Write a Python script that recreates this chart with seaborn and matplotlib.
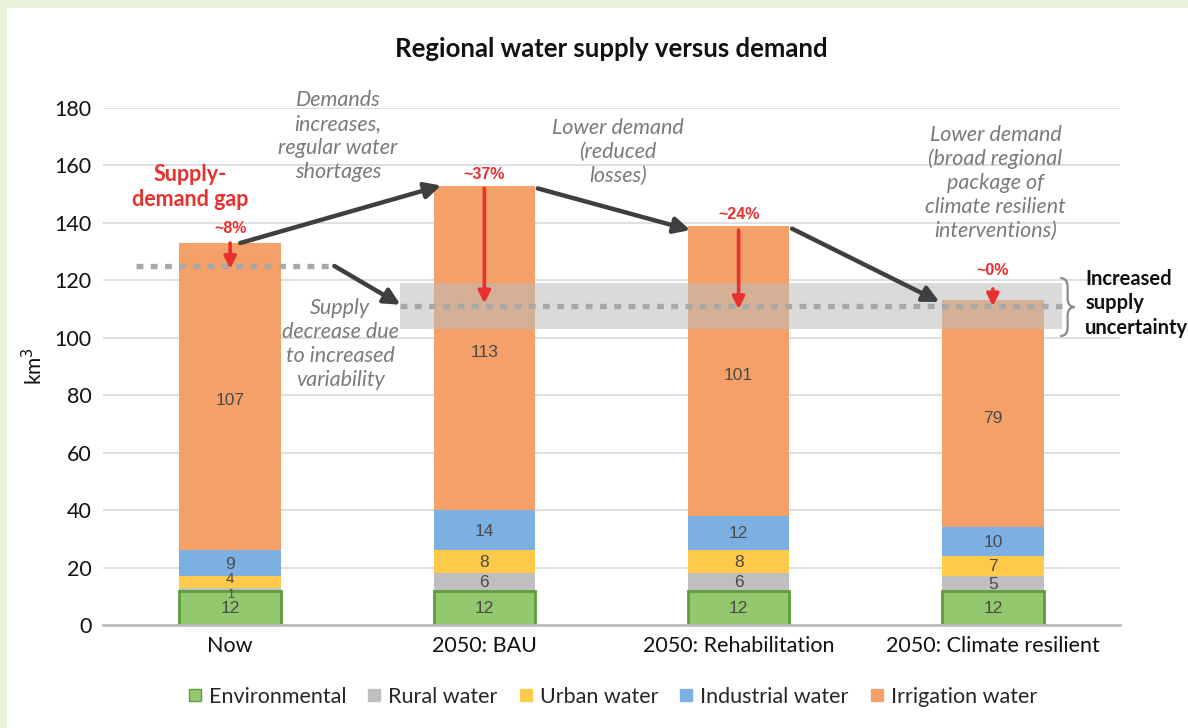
import matplotlib
matplotlib.use("Agg")
import matplotlib.pyplot as plt
import seaborn as sns
import numpy as np
import pandas as pd
from matplotlib.lines import Line2D
from matplotlib.patches import Rectangle, PathPatch
from matplotlib.path import Path

# ---------------- data ----------------
scenarios = ["Now", "2050: BAU", "2050: Rehabilitation", "2050: Climate resilient"]
environmental = [12, 12, 12, 12]
rural = [1, 6, 6, 5]
urban = [4, 8, 8, 7]
industrial = [9, 14, 12, 10]
irrigation = [107, 113, 101, 79]
series_names = ["Environmental", "Rural water", "Urban water", "Industrial water", "Irrigation water"]
gap_labels = ["~8%", "~37%", "~24%", "~0%"]
supply_now = 125
supply_future = 111
supply_band = [103, 119]
y_ticks = [0, 20, 40, 60, 80, 100, 120, 140, 160, 180]

colors = ["#93C86F", "#BFBFBF", "#FFCA4A", "#7DB0E2", "#F4A068"]
edge_env = "#5E9C3C"
red = "#E8302E"
dark = "#3F3F3F"
note_gray = "#7A7A7A"

sns.set_theme(style="white")
plt.rcParams["font.family"] = ["Lato", "DejaVu Sans"]

fig = plt.figure(figsize=(11.88, 7.28), dpi=100)
fig.patch.set_facecolor("#E8F2DA")
fig.patches.append(Rectangle((7 / 1188, 0), 1, 1 - 8 / 728, transform=fig.transFigure,
                             facecolor="white", edgecolor="none", zorder=-10))
ax = fig.add_axes([103 / 1188, 103 / 728, 1017 / 1188, 517 / 728])
ax.set_facecolor("none")

layers = [environmental, rural, urban, industrial, irrigation]
cum = np.cumsum(np.array(layers), axis=0)
# draw from top (total) down so lower segments overlay
for i in range(len(layers) - 1, -1, -1):
    df = pd.DataFrame({"scenario": scenarios, "value": cum[i]})
    kw = dict(edgecolor="none", linewidth=0)
    if i == 0:
        kw = dict(edgecolor=edge_env, linewidth=2)
    sns.barplot(data=df, x="scenario", y="value", order=scenarios, color=colors[i],
                saturation=1, width=0.4, ax=ax, zorder=2, errorbar=None, **kw)

# segment labels
for j in range(len(scenarios)):
    for i in range(len(layers)):
        bottom = cum[i][j] - layers[i][j]
        off = -1.5 if i == 4 else -0.3
        size = 12.5
        if layers[i][j] < 3:
            off, size = -2.0, 9
        elif layers[i][j] < 6 and j == 0:
            off, size = 1.0, 11
        ax.text(j, bottom + layers[i][j] / 2 + off, str(layers[i][j]),
                ha="center", va="center", fontsize=size, color="#4A4A4A",
                family=["Liberation Sans"], zorder=6)

ax.set_xlim(-0.5, 3.5)
ax.set_ylim(0, 180)
ax.set_yticks(y_ticks)
ax.yaxis.grid(True, color="#D9D9D9", lw=1.2, zorder=0)
ax.set_axisbelow(True)
for s in ["top", "right", "left"]:
    ax.spines[s].set_visible(False)
ax.spines["bottom"].set_color("#BDBDBD")
ax.spines["bottom"].set_linewidth(2)
ax.tick_params(axis="both", length=0, labelsize=15.5, colors="#111111")
ax.tick_params(axis="x", pad=8)
ax.tick_params(axis="y", pad=8)
ax.set_xlabel("")
ax.set_ylabel("km$^3$", fontsize=15, labelpad=6, color="#111111")

# supply band and supply lines
ax.fill_between([0.67, 3.27], supply_band[0], supply_band[1], color="#BDBDBD",
                alpha=0.55, lw=0, zorder=3)
ax.plot([-0.37, 0.41], [supply_now, supply_now], color="#A8A8A8", lw=3.8,
        dashes=(1.3, 1.4), zorder=4, dash_capstyle="butt")
ax.plot([0.67, 3.27], [supply_future, supply_future], color="#A8A8A8", lw=3.8,
        dashes=(1.3, 1.4), zorder=4, dash_capstyle="butt")

# black arrows
bk = dict(arrowstyle="-|>", color=dark, lw=3.2, mutation_scale=24, shrinkA=0, shrinkB=0)
totals = cum[-1]
ax.annotate("", xy=(0.83, totals[1]), xytext=(0.04, totals[0]), arrowprops=bk, zorder=5)
ax.annotate("", xy=(1.81, totals[2] - 1.5), xytext=(1.21, totals[1] - 1), arrowprops=bk, zorder=5)
ax.annotate("", xy=(2.79, totals[3] - 0.5), xytext=(2.21, totals[2] - 1), arrowprops=bk, zorder=5)
ax.annotate("", xy=(0.67, supply_future + 0.5), xytext=(0.41, supply_now), arrowprops=bk, zorder=5)

# red gap arrows and labels
rd = dict(arrowstyle="-|>", color=red, lw=2.6, mutation_scale=18, shrinkA=0, shrinkB=0)
starts = [totals[0], totals[1] - 1, totals[2] - 1.5, supply_future + 6]
ends = [supply_now - 1, supply_future + 1, supply_future - 1, supply_future]
label_y = [138, 157, 143, 123.5]
for j in range(4):
    ax.annotate("", xy=(j, ends[j]), xytext=(j, starts[j]), arrowprops=rd, zorder=6)
    ax.text(j, label_y[j], gap_labels[j], ha="center", va="center", fontsize=11.5,
            fontweight="bold", color=red, family=["Liberation Sans"], zorder=6)

# annotation texts
note = dict(ha="center", va="center", fontsize=15.5, style="italic", color=note_gray,
            linespacing=1.25, zorder=6)
ax.text(0.425, 170.3, "Demands\nincreases,\nregular water\nshortages", **note)
ax.text(1.526, 164.7, "Lower demand\n(reduced\nlosses)", **note)
ax.text(3.01, 153.9, "Lower demand\n(broad regional\npackage of\nclimate resilient\ninterventions)", **note)
ax.text(0.433, 97.8, "Supply\ndecrease due\nto increased\nvariability", **note)
ax.text(-0.157, 152.5, "Supply-\ndemand gap", ha="center", va="center", fontsize=15.5,
        fontweight="bold", color=red, linespacing=1.2, zorder=6)
ax.text(3.363, 112, "Increased\nsupply\nuncertainty", ha="left", va="center", fontsize=14.5,
        fontweight="bold", color="#111111", linespacing=1.3, zorder=6, clip_on=False)

# brace
x0, w = 3.265, 0.058
yt, yb = 120.8, 100.6
ym = (yt + yb) / 2
verts = [(x0, yt), (x0 + w / 2, yt), (x0 + w / 2, yt - 3),
         (x0 + w / 2, ym + 3),
         (x0 + w / 2, ym), (x0 + w, ym),
         (x0 + w / 2, ym), (x0 + w / 2, ym - 3),
         (x0 + w / 2, yb + 3),
         (x0 + w / 2, yb), (x0, yb)]
codes = [Path.MOVETO, Path.CURVE3, Path.CURVE3, Path.LINETO, Path.CURVE3, Path.CURVE3,
         Path.CURVE3, Path.CURVE3, Path.LINETO, Path.CURVE3, Path.CURVE3]
ax.add_patch(PathPatch(Path(verts, codes), facecolor="none", edgecolor="#8A8A8A", lw=1.6,
                       clip_on=False, zorder=6))

ax.set_title("Regional water supply versus demand", fontsize=18.5, fontweight="bold",
             color="#111111", pad=37)

handles = [Line2D([], [], marker="s", linestyle="none", markersize=8, markerfacecolor=c,
                  markeredgecolor=(edge_env if k == 0 else c)) for k, c in enumerate(colors)]
ax.legend(handles, series_names, loc="upper center", bbox_to_anchor=(0.5, -0.082),
          ncol=5, frameon=False, fontsize=15.5, handletextpad=0.25, columnspacing=0.9,
          handlelength=0.8)

fig.savefig("out.png", dpi=100, facecolor=fig.get_facecolor())
